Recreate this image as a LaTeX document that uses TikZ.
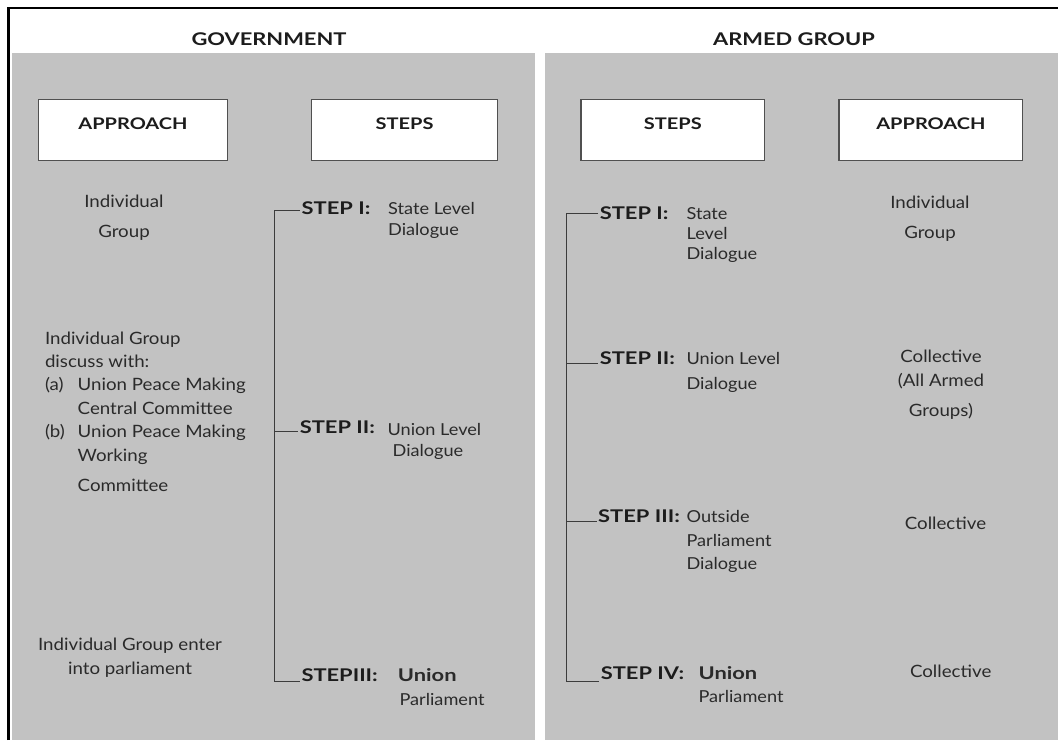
\documentclass[tikz,border=0pt]{standalone}
\usepackage{fontspec}
\setmainfont{Lato}[FakeStretch=1.1, BoldFeatures={FakeStretch=1.25}]
\definecolor{panel}{RGB}{194,194,194}
\definecolor{txt}{RGB}{42,42,42}
\definecolor{txtb}{RGB}{28,28,28}
\definecolor{linec}{RGB}{60,60,60}
\definecolor{boxc}{RGB}{80,80,80}
\begin{document}
\begin{tikzpicture}[x=1pt,y=-1pt,
  conn/.style={draw=linec, line width=1.4pt},
  hdr/.style={font=\bfseries\fontsize{17.5}{20}\selectfont, text=txtb, inner sep=0pt, anchor=base},
  hbox/.style={draw=boxc, line width=1.3pt, fill=white, minimum width=186pt, minimum height=61pt, inner sep=0pt},
  boxlbl/.style={font=\bfseries\fontsize{16}{18}\selectfont, text=txtb, inner sep=0pt, anchor=center},
  steplbl/.style={font=\bfseries\fontsize{17.5}{20}\selectfont, text=txtb, inner sep=0pt, anchor=base west},
  body/.style={font=\fontsize{17}{23.4}\selectfont, text=txt, inner sep=0pt},
  stepbody/.style={font=\fontsize{16.5}{21}\selectfont, text=txt, inner sep=0pt, anchor=base west, align=left},
]
\useasboundingbox (0,0) rectangle (1058,740);
\fill[white] (0,0) rectangle (1058,740);
% panels
\fill[panel] (11.5,53.3) rectangle (535,740);
\fill[panel] (545,53.3) rectangle (1058,740);
% frame
\draw[black, line width=2.7pt] (8.6,740) -- (8.6,8) -- (1058,8);

% headers
\node[hdr] (hgov) at (269,45) {GOVERNMENT};
\node[hdr] (harm) at (794,45) {ARMED GROUP};

% boxes
\node[hbox, minimum width=188.7pt] (gab) at (133,129.7) {};
\node[boxlbl] (gabt) at ([yshift=6.4pt]gab.center) {APPROACH};
\node[hbox] (gsb) at (404.6,129.7) {};
\node[boxlbl] (gsbt) at ([yshift=6.4pt]gsb.center) {STEPS};
\node[hbox, minimum width=183.7pt] (asb) at (672.9,129.7) {};
\node[boxlbl] (asbt) at ([yshift=6.4pt]asb.center) {STEPS};
\node[hbox, minimum width=183.7pt] (aab) at (930.9,129.7) {};
\node[boxlbl] (aabt) at ([yshift=6.4pt]aab.center) {APPROACH};

% government approach (base anchor = baseline of the last line)
\node[body, align=center, anchor=base] (ga1) at (124,237.7) {Individual\\[7pt]Group};
\node[body, align=left, anchor=base west] (ga2) at (44.8,491) {Individual Group\\discuss with:\\\makebox[32.7pt][l]{(a)}Union Peace Making\\\hspace*{32.7pt}Central Committee\\\makebox[32.7pt][l]{(b)}Union Peace Making\\\hspace*{32.7pt}Working\\[6.6pt]\hspace*{32.7pt}Committee};
\node[body, align=center, anchor=base] (ga3) at (130,674) {Individual Group enter\\into parliament};

% government steps
\node[steplbl] (gs1) at (301.5,214) {STEP I:};
\node[stepbody] (gs1t) at (388,235) {State Level\\Dialogue};
\node[steplbl] (gs2) at (299.6,433) {STEP II:};
\node[stepbody] (gs2t) at (387.4,456) {Union Level\\\hspace*{5pt}Dialogue};
\node[steplbl] (gs3) at (301.3,681) {STEPIII:};
\node[stepbody] (gs3t) at (397.7,705) {\textbf{\fontsize{17.5}{20}\selectfont Union}\\[3pt]\hspace*{1.7pt}Parliament};

\coordinate (gv) at (274.5,0);
\coordinate (gt1) at ([xshift=-1.5pt,yshift=3.3pt]gs1.base west);
\coordinate (gt2) at ([xshift=-1.5pt,yshift=1.3pt]gs2.base west);
\coordinate (gt3) at ([xshift=-1.5pt,yshift=-0.7pt]gs3.base west);
\draw[conn] (gt1) -- (gv |- gt1) -- (gv |- gt3) -- (gt3);
\draw[conn] (gv |- gt2) -- (gt2);

% armed group steps
\node[steplbl] (as1) at (599.6,219.3) {STEP I:};
\node[stepbody, font=\fontsize{16.5}{20}\selectfont] (as1t) at (686.4,259.3) {State\\Level\\Dialogue};
\node[steplbl] (as2) at (599.6,364.3) {STEP II:};
\node[stepbody, font=\fontsize{16.5}{25}\selectfont] (as2t) at (686.4,389.3) {Union Level\\Dialogue};
\node[steplbl] (as3) at (598,522.7) {STEP III:};
\node[stepbody, font=\fontsize{16.5}{23.3}\selectfont] (as3t) at (686.4,569.3) {Outside\\Parliament\\Dialogue};
\node[steplbl] (as4) at (600.6,679.3) {STEP IV:};
\node[stepbody] (as4t) at (698.4,702.7) {\textbf{\fontsize{17.5}{20}\selectfont Union}\\[2.4pt]Parliament};

\coordinate (av) at (566.3,0);
\coordinate (at1) at ([xshift=-1.5pt,yshift=6pt]as1.base west);
\coordinate (at2) at ([xshift=-1.5pt,yshift=1pt]as2.base west);
\coordinate (at3) at ([xshift=-1.5pt,yshift=1pt]as3.base west);
\coordinate (at4) at ([xshift=-1.5pt,yshift=-2.4pt]as4.base west);
\draw[conn] (at1) -- (av |- at1) -- (av |- at4) -- (at4);
\draw[conn] (av |- at2) -- (at2);
\draw[conn] (av |- at3) -- (at3);

% armed group approach
\node[body, align=center, anchor=base] (aa1) at (930,238.7) {Individual\\[7pt]Group};
\node[body, align=center, anchor=base] (aa2) at (941,416) {Collective\\(All Armed\\[6.6pt]Groups)};
\node[body, anchor=base] (aa3) at (945.5,529.3) {Collective};
\node[body, anchor=base] (aa4) at (950.7,677.7) {Collective};
\end{tikzpicture}
\end{document}
